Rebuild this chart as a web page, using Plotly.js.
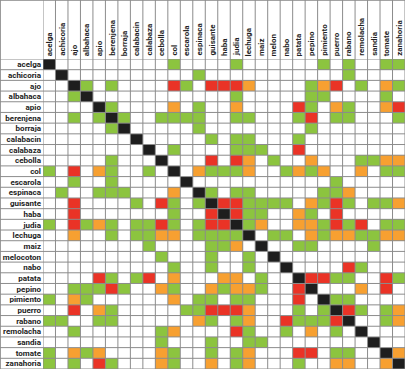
<!DOCTYPE html>
<html><head><meta charset="utf-8">
<script src="https://cdn.plot.ly/plotly-3.0.1.min.js"></script>
<style>html,body{margin:0;padding:0;background:#fff}#chart{width:406px;height:370px}</style>
</head><body><div id="chart"></div>
<script>
const rowLabels = ["acelga","achicoria","ajo","albahaca","apio","berenjena","borraja","calabacin","calabaza","cebolla","col","escarola","espinaca","guisante","haba","judia","lechuga","maiz","melocoton","nabo","patata","pepino","pimiento","puerro","rabano","remolacha","sandia","tomate","zanahoria"];
const colLabels = ["acelga","achicoria","ajo","albahaca","apio","berenjena","borraja","calabacin","calabaza","cebolla","col","escarola","espinaca","guisante","haba","judia","lechuga","maiz","melon","nabo","patata","pepino","pimiento","puerro","rabano","remolacha","sandia","tomate","zanahoria"];
// . none, g good, o caution, r bad, x same crop
const cellRows = [
"x.........g....g......g.g..gg",
".x..........g...........g....",
"..xg.g....rg.rrro....gor.g.og",
"..gx...........g.....gg....g.",
"....xg....o.g..o....rg.og..or",
"..g.gxg..gggg..gg...gr.gg...g",
".....gx.....g........g.......",
".......x.....g.gg...g........",
"........x.g....ggg..r........",
".....g...x...r.ro.g..o...ggoo",
"g.r.og..g.x.ogggo..gogo..o.gg",
"..g..g.....x...........g.....",
".g..ggg...o.xg.gg.....ggo....",
"..r....g.rg.gxrrgggg.ogrg.ggo",
"..r.......g..rxrgg..og.r.....",
"g.rgog.ggrg.grrxgo..oogrgr.gg",
"..o..g.ggoo.ggggx.gg.ogooggoo",
"........g....ggo.x..gg....g..",
".........g...g..g.x..........",
"..........g..g..g..x....rg...",
"....rg.gr.o...oo.g..xrrgg..rg",
"..gggrg..og..ogoog..rx...o.r.",
"g.og......o.gg.gg...r.xgg....",
"..r.og.....ggrrro...g.gxrg.go",
"gg..gg......og.go..rgggrx..go",
"..g......go....rg..g.o.g.x...",
".........g...g..gg........x..",
"g.ogo....og..g.go...rr.gg..xo",
"g.g.rg...og..o.go...g..oo..ox"
];
const codeValue = {".":0, "g":1, "o":2, "r":3, "x":4};
const z = cellRows.map(r => r.split("").map(c => codeValue[c]));
const idx = colLabels.map((_, i) => i);

const GREEN = "#8cc43f", ORANGE = "#f7a031", RED = "#ea3326", BLACK = "#1e1e1e", LINE = "#8c8c8c";
const FONT = "Roboto";

const shapes = [];
const nC = colLabels.length, nR = rowLabels.length;
const W = 406, H = 370, L = 43, R = 1, T = 59, B = 1;
const pw = W - L - R, ph = H - T - B;
for (let i = 0; i <= nC; i++) {
  shapes.push({type:"line", xref:"x", yref:"paper", x0:i-0.5, x1:i-0.5, y0:0, y1:1 + T/ph, line:{color:LINE, width:1}, layer:"above"});
}
for (let j = 0; j <= nR; j++) {
  shapes.push({type:"line", xref:"paper", yref:"y", x0:-L/pw, x1:1, y0:j-0.5, y1:j-0.5, line:{color:LINE, width:1}, layer:"above"});
}
shapes.push({type:"line", xref:"paper", yref:"paper", x0:-L/pw + 0.001, x1:-L/pw + 0.001, y0:0, y1:1 + T/ph, line:{color:LINE, width:1}});
shapes.push({type:"line", xref:"paper", yref:"paper", x0:-L/pw, x1:1, y0:1 + T/ph - 0.001, y1:1 + T/ph - 0.001, line:{color:LINE, width:1}});

const annotations = colLabels.map((t, i) => ({
  text:t, x:i, xref:"x", y:1, yref:"paper", xanchor:"center", yanchor:"bottom", yshift:1,
  textangle:-90, showarrow:false, font:{family:FONT, size:8, color:"#222", weight:700}
}));

const trace = {
  type:"heatmap", z:z, x:idx, y:rowLabels.map((_, i) => i),
  zmin:0, zmax:4, showscale:false, hoverinfo:"skip",
  colorscale:[[0,"#ffffff"],[0.125,"#ffffff"],[0.125,GREEN],[0.375,GREEN],[0.375,ORANGE],[0.625,ORANGE],[0.625,RED],[0.875,RED],[0.875,BLACK],[1,BLACK]]
};
const layout = {
  width:W, height:H, margin:{l:L, r:R, t:T, b:B, pad:0},
  paper_bgcolor:"#fff", plot_bgcolor:"#fff", showlegend:false,
  xaxis:{range:[-0.5, nC-0.5], showticklabels:false, ticks:"", showgrid:false, zeroline:false, showline:false},
  yaxis:{range:[nR-0.5, -0.5], tickvals:rowLabels.map((_, i) => i), ticktext:rowLabels, ticks:"", showgrid:false, zeroline:false, showline:false, ticklabelstandoff:1, tickfont:{family:FONT, size:8, color:"#222", weight:700}},
  shapes:shapes, annotations:annotations
};
Plotly.newPlot("chart", [trace], layout, {staticPlot:true, displayModeBar:false});
</script></body></html>
